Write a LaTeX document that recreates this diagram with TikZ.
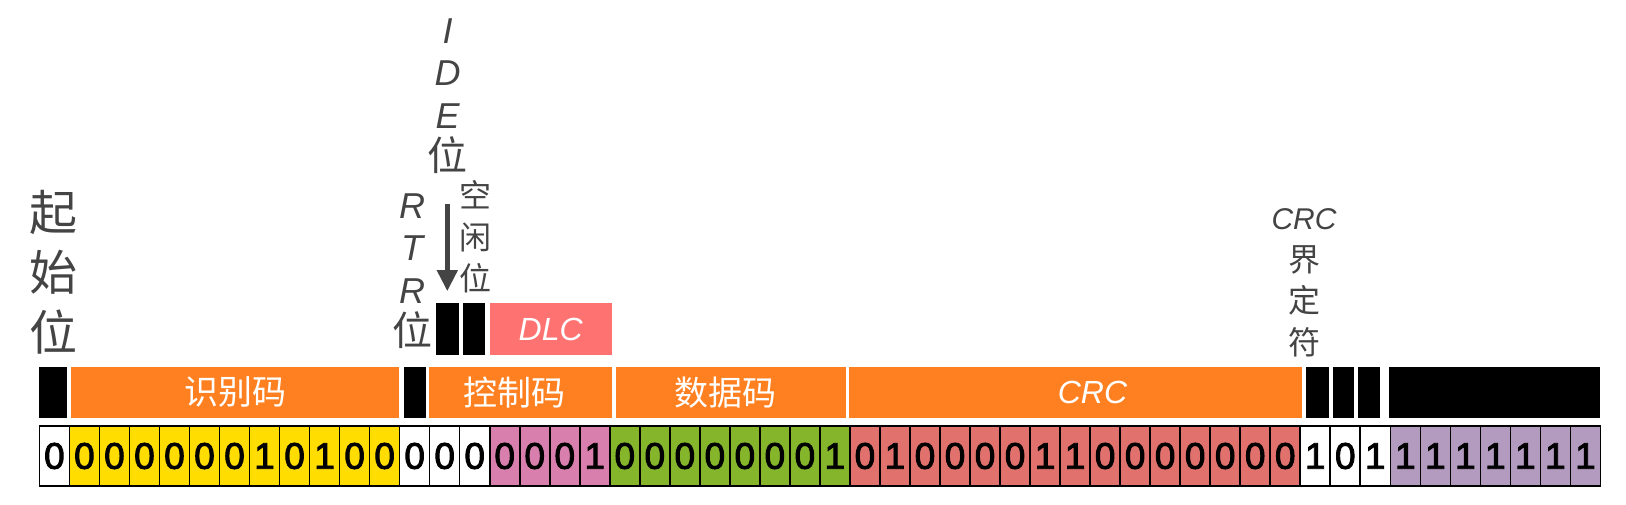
\documentclass[tikz,border=0pt]{standalone}
\usepackage{fontspec}
\setmainfont{Liberation Sans}
\newfontfamily\cjk{Noto Sans CJK SC}
\newfontfamily\bitfont{Liberation Sans}[FakeBold=2.5]
\usetikzlibrary{arrows.meta,positioning}
\definecolor{fieldorange}{HTML}{FF8021}
\definecolor{dlcred}{HTML}{FF7272}
\definecolor{bityellow}{HTML}{FFDD00}
\definecolor{bitpink}{HTML}{D97FAE}
\definecolor{bitgreen}{HTML}{84B52A}
\definecolor{bitred}{HTML}{E0716C}
\definecolor{bitpurple}{HTML}{B39BC0}
\definecolor{labelgray}{HTML}{444444}
\newcommand{\bigwei}{\cjk\fontsize{40}{42.5}\selectfont 位}

\begin{document}
\begin{tikzpicture}[
  x=1pt, y=-1pt,
  bitcell/.style={rectangle, draw=black, line width=1.6pt, inner sep=0pt,
                  minimum width=30pt, minimum height=60pt,
                  font=\bitfont\fontsize{37}{37}\selectfont},
  bar/.style={rectangle, inner sep=0pt, fill=black, minimum height=50.7pt},
  field/.style={bar, fill=fieldorange},
  fieldtext/.style={text=white, inner sep=0pt,
                    font=\fontsize{34}{34}\selectfont},
  upbit/.style={rectangle, inner sep=0pt, fill=black, minimum height=51.7pt},
  biglabel/.style={align=center, text=labelgray, inner sep=0pt,
                   font=\fontsize{48}{60}\selectfont},
  midlabel/.style={align=center, text=labelgray, inner sep=0pt,
                   font=\fontsize{36}{42.5}\selectfont},
  smalllabel/.style={align=center, text=labelgray, inner sep=0pt,
                     font=\fontsize{32}{41.5}\selectfont},
  arr/.style={-{Triangle[length=21pt, width=20pt]}, line width=4.5pt, labelgray}]
\useasboundingbox (0,0) rectangle (1626,504);
% bit row
\foreach \bit [count=\i from 1] in {0}
  \node[bitcell, fill=white] (b\i) at ({39.4+(\i-.5)*30.02},456) {\bit};
\foreach \bit [count=\i from 2] in {0,0,0,0,0,0,1,0,1,0,0}
  \node[bitcell, fill=bityellow] (b\i) at ({39.4+(\i-.5)*30.02},456) {\bit};
\foreach \bit [count=\i from 13] in {0,0,0}
  \node[bitcell, fill=white] (b\i) at ({39.4+(\i-.5)*30.02},456) {\bit};
\foreach \bit [count=\i from 16] in {0,0,0,1}
  \node[bitcell, fill=bitpink] (b\i) at ({39.4+(\i-.5)*30.02},456) {\bit};
\foreach \bit [count=\i from 20] in {0,0,0,0,0,0,0,1}
  \node[bitcell, fill=bitgreen] (b\i) at ({39.4+(\i-.5)*30.02},456) {\bit};
\foreach \bit [count=\i from 28] in {0,1,0,0,0,0,1,1,0,0,0,0,0,0,0}
  \node[bitcell, fill=bitred] (b\i) at ({39.4+(\i-.5)*30.02},456) {\bit};
\foreach \bit [count=\i from 43] in {1,0,1}
  \node[bitcell, fill=white] (b\i) at ({39.4+(\i-.5)*30.02},456) {\bit};
\foreach \bit [count=\i from 46] in {1,1,1,1,1,1,1}
  \node[bitcell, fill=bitpurple] (b\i) at ({39.4+(\i-.5)*30.02},456) {\bit};
% field row
\node[bar, minimum width=27.4pt] (sof) at (53.1,392.3) {};
\node[field, minimum width=328.2pt,
      label={[fieldtext]center:\cjk 识别码}] (idf) at (235.3,392.3) {};
\node[bar, minimum width=22.2pt] (rtr) at (414.8,392.3) {};
\node[field, minimum width=182.3pt,
      label={[fieldtext, xshift=-6pt]center:\cjk 控制码}] (ctl) at (520.5,392.3) {};
\node[field, minimum width=229.5pt,
      label={[fieldtext, xshift=-5pt]center:\cjk 数据码}] (dat) at (730.8,392.3) {};
\node[field, minimum width=453.6pt,
      label={[fieldtext, xshift=17pt, font=\fontsize{32}{32}\selectfont\itshape]center:CRC}] (crc) at (1075.5,392.3) {};
\node[bar, minimum width=23pt] (crcd) at (1317.8,392.3) {};
\node[bar, minimum width=20.4pt] (ack) at (1343.5,392.3) {};
\node[bar, minimum width=22pt] (ackd) at (1369.3,392.3) {};
\node[bar, minimum width=210.7pt] (eof) at (1494.3,392.3) {};
% control bits
\node[upbit, minimum width=22.7pt] (ide) at (447.3,329.2) {};
\node[upbit, minimum width=22pt] (res) at (474.3,329.2) {};
\node[upbit, fill=dlcred, minimum width=122pt, text=white,
      font=\fontsize{32}{32}\selectfont\itshape] (dlc) at (550.7,329.2) {DLC};
% labels
\node[biglabel] (soflabel) at (53,272) {\cjk 起\\\cjk 始\\\cjk 位};
\node[midlabel] (rtrlabel) at (412,271) {\itshape R\\\itshape T\\\itshape R\\\bigwei};
\node[midlabel] (idelabel) at (447.7,96) {\itshape I\\\itshape D\\\itshape E\\\bigwei};
\node[smalllabel] (reslabel) at (475,237) {\cjk 空\\\cjk 闲\\\cjk 位};
\node[smalllabel] (crclabel) at (1304,283) {{\fontsize{30}{41.5}\selectfont\itshape CRC}\\\cjk 界\\\cjk 定\\\cjk 符};
\draw[arr, shorten <=30pt, shorten >=12pt] (idelabel.south -| ide) -- (ide.north);
\end{tikzpicture}
\end{document}
